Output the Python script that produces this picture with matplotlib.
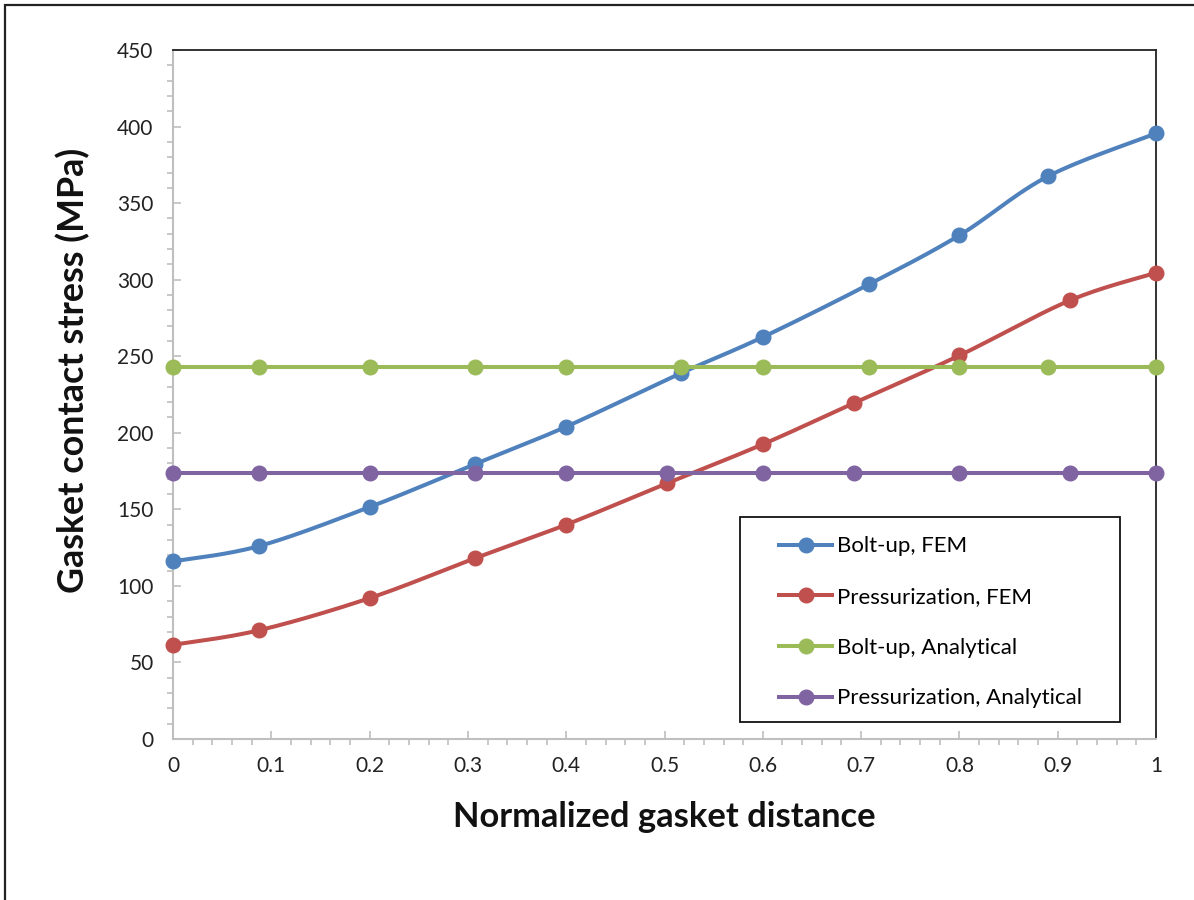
import numpy as np
import matplotlib
matplotlib.use("Agg")
import matplotlib.pyplot as plt
from matplotlib.patches import Rectangle
from matplotlib.ticker import MultipleLocator

plt.rcParams['font.family'] = ['Lato', 'DejaVu Sans']

# Normalized gasket distance positions
x_bolt = [0.0, 0.0875, 0.2, 0.307, 0.4, 0.517, 0.6, 0.708, 0.8, 0.89, 1.0]
x_press = [0.0, 0.0875, 0.2, 0.307, 0.4, 0.5025, 0.6, 0.693, 0.8, 0.9125, 1.0]

# Gasket contact stress (MPa)
bolt_fem = [116, 126, 151.5, 179.5, 204, 239, 262.5, 297, 329, 367.5, 395.5]
press_fem = [61.5, 71, 92, 118, 140, 167, 192.5, 219.5, 250.5, 286.5, 304.5]
bolt_analytical = [243] * 11
press_analytical = [173.5] * 11

labels = ["Bolt-up, FEM", "Pressurization, FEM",
          "Bolt-up, Analytical", "Pressurization, Analytical"]
colors = ["#4F81BD", "#C0504D", "#9BBB59", "#8064A2"]

x_ticks = [0.0, 0.1, 0.2, 0.3, 0.4, 0.5, 0.6, 0.7, 0.8, 0.9, 1.0]
x_tick_labels = ["0", "0.1", "0.2", "0.3", "0.4", "0.5", "0.6",
                 "0.7", "0.8", "0.9", "1"]
y_ticks = [0, 50, 100, 150, 200, 250, 300, 350, 400, 450]


def smooth(xs, ys, n=30):
    """Catmull-Rom style smoothing through the data points."""
    xs = np.asarray(xs, float)
    ys = np.asarray(ys, float)
    px = np.concatenate([[xs[0]], xs, [xs[-1]]])
    py = np.concatenate([[ys[0]], ys, [ys[-1]]])
    ox, oy = [], []
    for i in range(1, len(px) - 2):
        p0 = np.array([px[i - 1], py[i - 1]])
        p1 = np.array([px[i], py[i]])
        p2 = np.array([px[i + 1], py[i + 1]])
        p3 = np.array([px[i + 2], py[i + 2]])
        c1 = p1 + (p2 - p0) / 6.0
        c2 = p2 - (p3 - p1) / 6.0
        t = np.linspace(0, 1, n)[:, None]
        pts = ((1 - t) ** 3) * p1 + 3 * ((1 - t) ** 2) * t * c1 \
            + 3 * (1 - t) * t ** 2 * c2 + t ** 3 * p2
        ox.extend(pts[:, 0])
        oy.extend(pts[:, 1])
    return np.array(ox), np.array(oy)


fig = plt.figure(figsize=(11.94, 9.0), dpi=100)
ax = fig.add_axes([0.1449, 0.1789, 0.8233, 0.7655])

series = [(x_bolt, bolt_fem), (x_press, press_fem),
          (x_bolt, bolt_analytical), (x_press, press_analytical)]
handles = []
for (xs, ys), lab, col in zip(series, labels, colors):
    sx, sy = smooth(xs, ys)
    ax.plot(sx, sy, color=col, lw=2.9, zorder=3, solid_capstyle='round')
    ax.plot(xs, ys, 'o', color=col, ms=10.5, zorder=4, clip_on=False)
    h, = ax.plot([], [], '-o', color=col, lw=2.9, ms=10.5, label=lab)
    handles.append(h)

ax.set_xlim(0, 1)
ax.set_ylim(0, 450)
ax.set_xticks(x_ticks, x_tick_labels)
ax.set_yticks(y_ticks)
ax.xaxis.set_minor_locator(MultipleLocator(0.02))
ax.yaxis.set_minor_locator(MultipleLocator(10))

gray = "#BFBFBF"
ax.spines['left'].set_color(gray)
ax.spines['bottom'].set_color(gray)
ax.spines['left'].set_linewidth(1.5)
ax.spines['bottom'].set_linewidth(1.5)
ax.spines['top'].set_color("#222222")
ax.spines['right'].set_color("#222222")
ax.spines['top'].set_linewidth(1.3)
ax.spines['right'].set_linewidth(1.3)

ax.tick_params(axis='both', which='major', direction='in', length=6,
               width=1.2, color=gray, labelsize=15, labelcolor="#222222")
ax.tick_params(axis='both', which='minor', direction='out', length=4,
               width=1.2, color=gray)
ax.tick_params(axis='x', which='major', pad=12)
ax.tick_params(axis='y', which='major', pad=14)

ax.set_xlabel("Normalized gasket distance", fontsize=24.8, fontweight='bold',
              color="#111111", labelpad=18)
ax.set_ylabel("Gasket contact stress (MPa)", fontsize=25.8, fontweight='bold',
              color="#111111")
ax.yaxis.set_label_coords(-0.084, 0.5356)

# Legend box drawn as a plain rectangle, entries placed inside it
ax.add_patch(Rectangle((0.5768, 0.0247), 0.3866, 0.2973,
                       transform=ax.transAxes, facecolor='white',
                       edgecolor="#111111", lw=1.3, zorder=5))
leg = ax.legend(handles=handles, loc='upper left',
                bbox_to_anchor=(0.6165, 0.294),
                fontsize=16, frameon=False, labelspacing=1.38,
                handlelength=2.4, handletextpad=0.22, borderpad=0,
                borderaxespad=0)
leg.set_zorder(6)

# Outer figure frame (left and top edges visible)
fig.patches.append(Rectangle((5 / 1194, -0.1), 1.2, 1.1 - 5 / 900,
                             transform=fig.transFigure, fill=False,
                             edgecolor="#222222", lw=1.6))

fig.savefig("out.png", dpi=100)
